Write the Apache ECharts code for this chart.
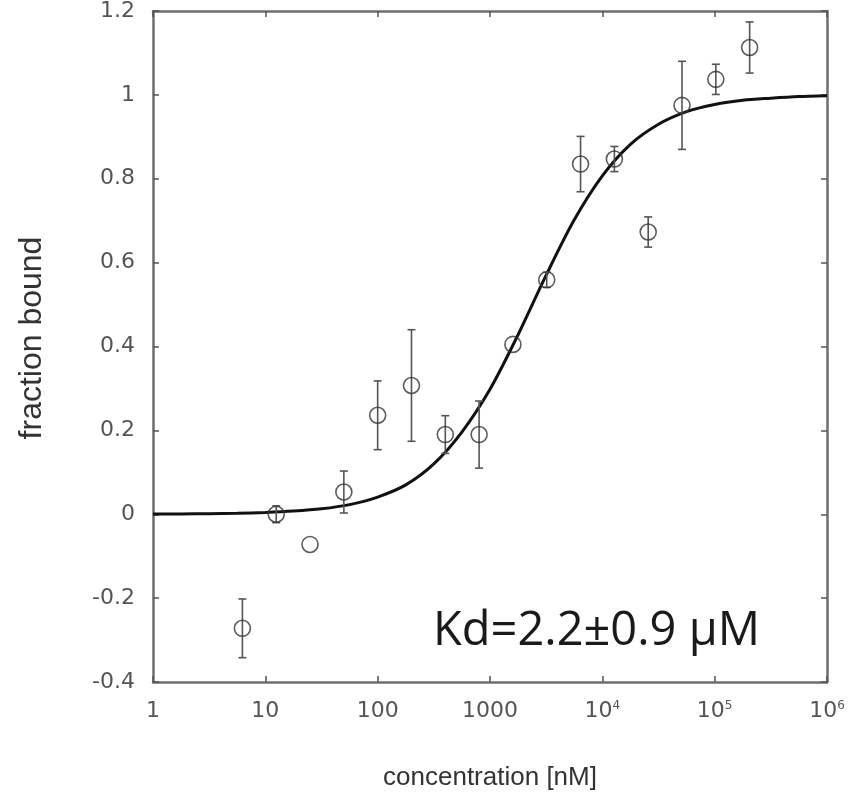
<!DOCTYPE html>
<html>
<head>
<meta charset="utf-8">
<script src="https://cdn.jsdelivr.net/npm/echarts@6/dist/echarts.min.js"></script>
<style>
html,body{margin:0;padding:0;background:#fff;}
#chart{width:848px;height:799px;}
</style>
</head>
<body>
<div id="chart"></div>
<script>
// ---- data ----
const concentration = [6.25, 12.5, 25, 50, 100, 200, 400, 800, 1600, 3200, 6400, 12800, 25600, 51200, 102400, 204800];
const fractionBound = [-0.272, 0.0, -0.072, 0.053, 0.236, 0.307, 0.19, 0.19, 0.405, 0.559, 0.835, 0.847, 0.673, 0.975, 1.037, 1.113];
const errorBar      = [0.07, 0.02, 0, 0.05, 0.082, 0.133, 0.045, 0.08, 0, 0.018, 0.066, 0.03, 0.036, 0.105, 0.036, 0.061];

// fitted curve, read at quarter-decade steps
const fitX = [1, 1.78, 3.16, 5.62, 10, 17.8, 31.6, 56.2, 100, 178, 316, 562, 1000, 1778, 3162, 5623, 10000, 17783, 31623, 56234, 100000, 177828, 316228, 562341, 1000000];
const fitY = [0.0004, 0.0007, 0.0013, 0.0023, 0.0042, 0.0075, 0.013, 0.023, 0.041, 0.07, 0.12, 0.196, 0.298, 0.428, 0.57, 0.702, 0.807, 0.882, 0.93, 0.96, 0.977, 0.987, 0.992, 0.996, 0.998];

const xTickLabels = ['1', '10', '100', '1000', '10{sup|4}', '10{sup|5}', '10{sup|6}'];
const yTickLabels = ['-0.4', '-0.2', '0', '0.2', '0.4', '0.6', '0.8', '1', '1.2'];

const xAxisTitle = 'concentration [nM]';
const yAxisTitle = 'fraction bound';
const annotation = 'Kd=2.2±0.9 µM';

// ---- chart ----
const chart = echarts.init(document.getElementById('chart'), null, {renderer: 'canvas'});

const frameColor = '#6e6e6e';
const tickColor = '#555';
const labelColor = '#555';

function xAxisBase(pos, showLabel) {
  return {
    type: 'log', logBase: 10, min: 1, max: 1000000, position: pos,
    axisLine: {show: true, onZero: false, lineStyle: {color: frameColor, width: 2.5}},
    axisTick: {show: true, inside: true, length: 6, lineStyle: {color: tickColor, width: 1.5}},
    minorTick: {show: false},
    splitLine: {show: false},
    axisLabel: {
      show: showLabel, margin: 18, fontFamily: 'DejaVu Sans', fontSize: 22, color: labelColor,
      formatter: function (v) { return xTickLabels[Math.round(Math.log10(v))]; },
      rich: {sup: {fontFamily: 'DejaVu Sans', fontSize: 12, color: labelColor, verticalAlign: 'top', lineHeight: 12}}
    }
  };
}
function yAxisBase(pos, showLabel) {
  return {
    type: 'value', min: -0.4, max: 1.2, interval: 0.2, position: pos,
    axisLine: {show: true, onZero: false, lineStyle: {color: frameColor, width: 2.5}},
    axisTick: {show: true, inside: true, length: 6, lineStyle: {color: tickColor, width: 1.5}},
    splitLine: {show: false},
    axisLabel: {
      show: showLabel, margin: 18, fontFamily: 'DejaVu Sans', fontSize: 22, color: labelColor,
      formatter: function (v) { return yTickLabels[Math.round((v + 0.4) / 0.2)]; }
    }
  };
}

const scatterData = concentration.map((c, i) => [c, fractionBound[i]]);
const errData = concentration.map((c, i) => [c, fractionBound[i] - errorBar[i], fractionBound[i] + errorBar[i], errorBar[i]]);
const fitData = fitX.map((x, i) => [x, fitY[i]]);

const option = {
  animation: false,
  backgroundColor: '#fff',
  grid: {left: 153, right: 21, top: 8, bottom: 117, containLabel: false},
  xAxis: [xAxisBase('bottom', true), xAxisBase('top', false)],
  yAxis: [yAxisBase('left', true), yAxisBase('right', false)],
  series: [
    {
      type: 'line', data: fitData, xAxisIndex: 0, yAxisIndex: 0,
      smooth: 0.3, showSymbol: false, symbol: 'none',
      lineStyle: {color: '#111', width: 3}, z: 2
    },
    {
      type: 'custom', xAxisIndex: 0, yAxisIndex: 0, data: errData, z: 3,
      renderItem: function (params, api) {
        const e = api.value(3);
        if (!e) return null;
        const x = api.value(0);
        const lo = api.coord([x, api.value(1)]);
        const hi = api.coord([x, api.value(2)]);
        const w = 4;
        const st = {stroke: '#555', lineWidth: 1.6};
        return {
          type: 'group',
          children: [
            {type: 'line', shape: {x1: lo[0], y1: lo[1], x2: hi[0], y2: hi[1]}, style: st},
            {type: 'line', shape: {x1: lo[0] - w, y1: lo[1], x2: lo[0] + w, y2: lo[1]}, style: st},
            {type: 'line', shape: {x1: hi[0] - w, y1: hi[1], x2: hi[0] + w, y2: hi[1]}, style: st}
          ]
        };
      }
    },
    {
      type: 'scatter', data: scatterData, xAxisIndex: 0, yAxisIndex: 0,
      symbol: 'circle', symbolSize: 16, z: 4,
      itemStyle: {color: 'rgba(0,0,0,0)', borderColor: '#333', borderWidth: 1.6}
    }
  ],
  graphic: [
    {
      type: 'text', x: 32, y: 338, rotation: Math.PI / 2,
      style: {text: yAxisTitle, fontFamily: 'Liberation Sans', fontSize: 32, fill: '#333', align: 'center', verticalAlign: 'middle'}
    },
    {
      type: 'text', x: 490, y: 778,
      style: {text: xAxisTitle, fontFamily: 'Liberation Sans', fontSize: 26, fill: '#333', align: 'center', verticalAlign: 'middle'}
    },
    {
      type: 'text', x: 433, y: 632, z: 10,
      style: {text: annotation, fontFamily: 'Open Sans', fontSize: 47, fill: '#1a1a1a', align: 'left', verticalAlign: 'middle'}
    }
  ]
};
chart.setOption(option);
</script>
</body>
</html>
